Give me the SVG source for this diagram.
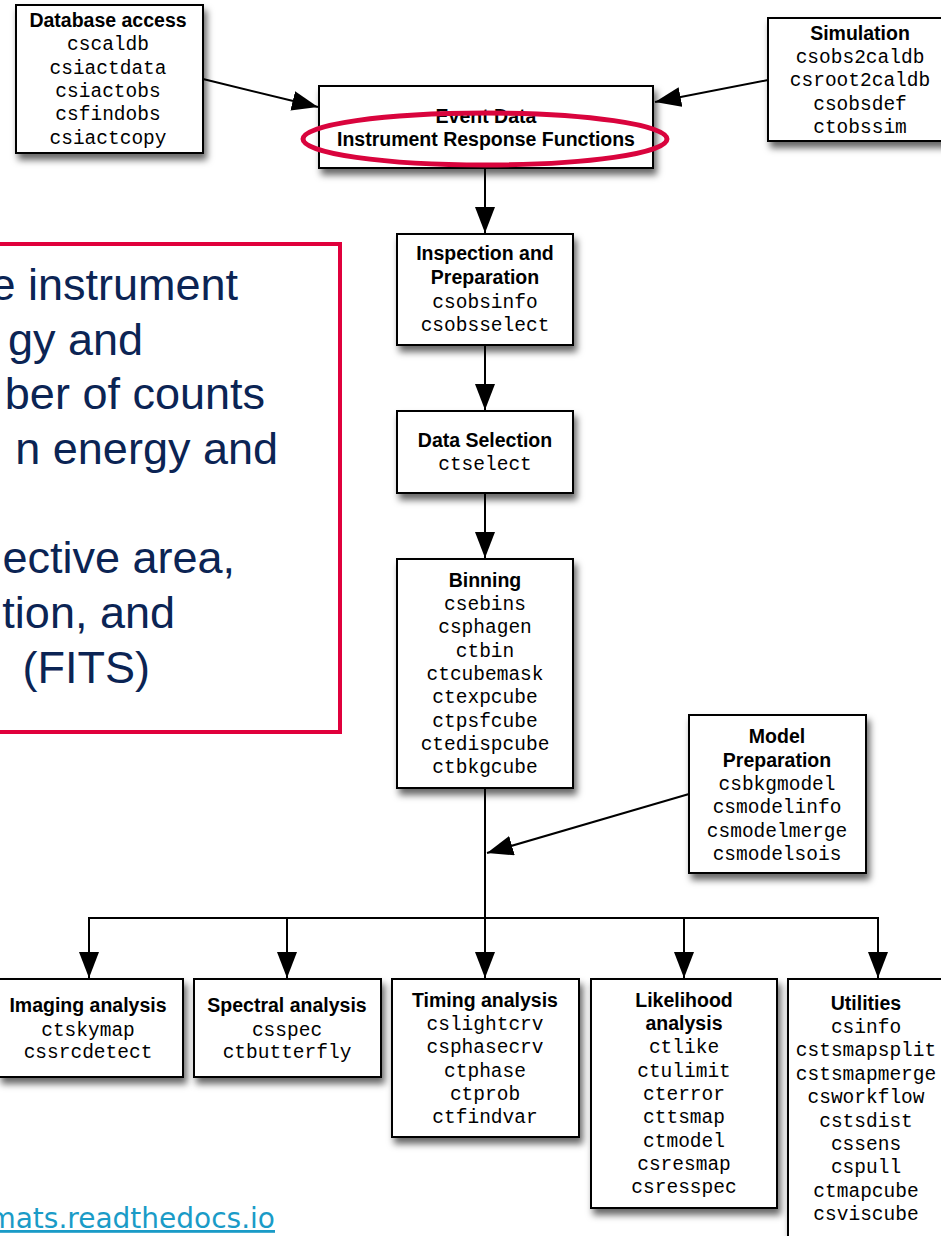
<svg xmlns="http://www.w3.org/2000/svg" width="941" height="1236" viewBox="0 0 941 1236">
<style>
.box{fill:#fff;stroke:#000;stroke-width:2;filter:url(#sh)}
.t{font-family:"Liberation Sans",Arial,sans-serif;font-weight:bold;font-size:19.5px;text-anchor:middle;fill:#000}
.m{font-family:"Liberation Mono","Courier New",monospace;font-size:19.5px;text-anchor:middle;fill:#000}
.c{fill:none;stroke:#000;stroke-width:2}
.a{marker-end:url(#ah)}
.note{font-family:"Liberation Sans",Arial,sans-serif;font-size:45px;fill:#0b2454;text-anchor:end}
</style>
<defs>
<filter id="sh" x="-20%" y="-20%" width="150%" height="150%">
<feDropShadow dx="3" dy="6" stdDeviation="3.5" flood-color="#000" flood-opacity="0.6"/>
</filter>
<marker id="ah" markerUnits="userSpaceOnUse" markerWidth="26" markerHeight="20" viewBox="0 0 26 20" refX="26" refY="10" orient="auto">
<path d="M0,0 L26,10 L0,20 z" fill="#000"/>
</marker>
</defs>
<rect width="941" height="1236" fill="#fff"/>

<g id="connectors">
<line class="c a" x1="203" y1="79" x2="318" y2="107"/>
<line class="c a" x1="768" y1="80" x2="655" y2="102"/>
<line class="c a" x1="485" y1="168" x2="485" y2="233"/>
<line class="c a" x1="485" y1="345" x2="485" y2="410"/>
<line class="c a" x1="485" y1="493" x2="485" y2="558"/>
<polyline class="c" points="485,788 485,918"/>
<line class="c a" x1="689" y1="794" x2="487" y2="853"/>
<polyline class="c" points="89,977 89,918 878,918 878,977"/>
<line class="c a" x1="89" y1="918" x2="89" y2="978"/>
<line class="c a" x1="287" y1="918" x2="287" y2="978"/>
<line class="c a" x1="485" y1="918" x2="485" y2="978"/>
<line class="c a" x1="684" y1="918" x2="684" y2="978"/>
<line class="c a" x1="878" y1="918" x2="878" y2="978"/>
</g>

<g id="database">
<rect class="box" x="16" y="5" width="187" height="148"/>
<text class="t" x="108" y="27">Database access</text>
<text class="m" x="108" y="50">cscaldb</text>
<text class="m" x="108" y="74">csiactdata</text>
<text class="m" x="108" y="97">csiactobs</text>
<text class="m" x="108" y="120">csfindobs</text>
<text class="m" x="108" y="144">csiactcopy</text>
</g>

<g id="simulation">
<rect class="box" x="768" y="18" width="185" height="123"/>
<text class="t" x="860" y="40">Simulation</text>
<text class="m" x="860" y="63">csobs2caldb</text>
<text class="m" x="860" y="86">csroot2caldb</text>
<text class="m" x="860" y="110">csobsdef</text>
<text class="m" x="860" y="133">ctobssim</text>
</g>

<g id="eventdata">
<rect class="box" x="319" y="86" width="334" height="82"/>
<text class="t" x="486" y="123">Event Data</text>
<text class="t" x="486" y="146">Instrument Response Functions</text>
<ellipse cx="485" cy="139" rx="182" ry="26" fill="none" stroke="#d9043d" stroke-width="5"/>
</g>

<g id="inspection">
<rect class="box" x="397" y="234" width="176" height="111"/>
<text class="t" x="485" y="260">Inspection and</text>
<text class="t" x="485" y="284">Preparation</text>
<text class="m" x="485" y="308">csobsinfo</text>
<text class="m" x="485" y="331">csobsselect</text>
</g>

<g id="dataselection">
<rect class="box" x="397" y="411" width="176" height="82"/>
<text class="t" x="485" y="447">Data Selection</text>
<text class="m" x="485" y="470">ctselect</text>
</g>

<g id="binning">
<rect class="box" x="397" y="559" width="176" height="229"/>
<text class="t" x="485" y="587">Binning</text>
<text class="m" x="485" y="610">csebins</text>
<text class="m" x="485" y="633">csphagen</text>
<text class="m" x="485" y="657">ctbin</text>
<text class="m" x="485" y="680">ctcubemask</text>
<text class="m" x="485" y="703">ctexpcube</text>
<text class="m" x="485" y="727">ctpsfcube</text>
<text class="m" x="485" y="750">ctedispcube</text>
<text class="m" x="485" y="773">ctbkgcube</text>
</g>

<g id="modelprep">
<rect class="box" x="689" y="715" width="177" height="158"/>
<text class="t" x="777" y="743">Model</text>
<text class="t" x="777" y="767">Preparation</text>
<text class="m" x="777" y="790">csbkgmodel</text>
<text class="m" x="777" y="813">csmodelinfo</text>
<text class="m" x="777" y="837">csmodelmerge</text>
<text class="m" x="777" y="860">csmodelsois</text>
</g>

<g id="imaging">
<rect class="box" x="-1" y="979" width="184" height="98"/>
<text class="t" x="88" y="1012">Imaging analysis</text>
<text class="m" x="88" y="1036">ctskymap</text>
<text class="m" x="88" y="1058">cssrcdetect</text>
</g>

<g id="spectral">
<rect class="box" x="194" y="979" width="187" height="98"/>
<text class="t" x="287" y="1012">Spectral analysis</text>
<text class="m" x="287" y="1036">csspec</text>
<text class="m" x="287" y="1058">ctbutterfly</text>
</g>

<g id="timing">
<rect class="box" x="392" y="979" width="187" height="158"/>
<text class="t" x="485" y="1007">Timing analysis</text>
<text class="m" x="485" y="1030">cslightcrv</text>
<text class="m" x="485" y="1053">csphasecrv</text>
<text class="m" x="485" y="1077">ctphase</text>
<text class="m" x="485" y="1100">ctprob</text>
<text class="m" x="485" y="1123">ctfindvar</text>
</g>

<g id="likelihood">
<rect class="box" x="591" y="979" width="186" height="229"/>
<text class="t" x="684" y="1007">Likelihood</text>
<text class="t" x="684" y="1030">analysis</text>
<text class="m" x="684" y="1053">ctlike</text>
<text class="m" x="684" y="1077">ctulimit</text>
<text class="m" x="684" y="1100">cterror</text>
<text class="m" x="684" y="1123">cttsmap</text>
<text class="m" x="684" y="1147">ctmodel</text>
<text class="m" x="684" y="1170">csresmap</text>
<text class="m" x="684" y="1193">csresspec</text>
</g>

<g id="utilities">
<rect class="box" x="788" y="979" width="157" height="270"/>
<text class="t" x="866" y="1010">Utilities</text>
<text class="m" x="866" y="1033">csinfo</text>
<text class="m" x="866" y="1056">cstsmapsplit</text>
<text class="m" x="866" y="1080">cstsmapmerge</text>
<text class="m" x="866" y="1103">csworkflow</text>
<text class="m" x="866" y="1127">cstsdist</text>
<text class="m" x="866" y="1150">cssens</text>
<text class="m" x="866" y="1173">cspull</text>
<text class="m" x="866" y="1197">ctmapcube</text>
<text class="m" x="866" y="1220">csviscube</text>
</g>

<g id="note">
<rect x="-5" y="244" width="345" height="488" fill="#fff" stroke="#e0003c" stroke-width="4"/>
<text class="note" x="238" y="300">e instrument</text>
<text class="note" x="143" y="355">gy and</text>
<text class="note" x="265" y="409">ber of counts</text>
<text class="note" x="278" y="464">n energy and</text>
<text class="note" x="235" y="573">ective area,</text>
<text class="note" x="175" y="628">tion, and</text>
<text class="note" x="150" y="683">(FITS)</text>
</g>

<g id="link">
<text x="275" y="1228" text-anchor="end" font-family="DejaVu Sans, Verdana, sans-serif" font-size="28" fill="#1a9bc7" text-decoration="underline">mats.readthedocs.io</text>
</g>
</svg>
